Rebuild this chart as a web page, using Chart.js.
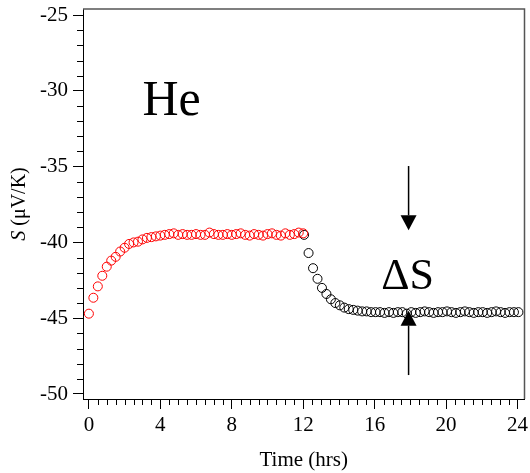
<!DOCTYPE html>
<html>
<head>
<meta charset="utf-8">
<script src="https://cdn.jsdelivr.net/npm/chart.js@4.4.1/dist/chart.umd.min.js"></script>
<style>
html,body{margin:0;padding:0;background:#fff;}
canvas{display:block;}
</style>
</head>
<body>
<canvas id="c" width="530" height="473"></canvas>
<script>
// ---- data ----
const redTime = [0,0.25,0.5,0.75,1,1.25,1.5,1.75,2,2.25,2.5,2.75,3,3.25,3.5,3.75,4,4.25,4.5,4.75,5,5.25,5.5,5.75,6,6.25,6.5,6.75,7,7.25,7.5,7.75,8,8.25,8.5,8.75,9,9.25,9.5,9.75,10,10.25,10.5,10.75,11,11.25,11.5,11.75,12];
const redS = [-44.7,-43.65,-42.9,-42.2,-41.6,-41.2,-40.95,-40.6,-40.35,-40.1,-40.0,-39.95,-39.8,-39.7,-39.65,-39.6,-39.55,-39.5,-39.45,-39.4,-39.5,-39.45,-39.5,-39.5,-39.45,-39.5,-39.5,-39.35,-39.45,-39.5,-39.5,-39.45,-39.5,-39.45,-39.4,-39.5,-39.55,-39.45,-39.5,-39.55,-39.45,-39.4,-39.5,-39.55,-39.4,-39.5,-39.45,-39.35,-39.4];
const blackTime = [12.05,12.3,12.55,12.8,13.05,13.3,13.55,13.8,14.05,14.3,14.55,14.8,15.05,15.3,15.55,15.8,16.05,16.3,16.55,16.8,17.05,17.3,17.55,17.8,18.05,18.3,18.55,18.8,19.05,19.3,19.55,19.8,20.05,20.3,20.55,20.8,21.05,21.3,21.55,21.8,22.05,22.3,22.55,22.8,23.05,23.3,23.55,23.8,24.05];
const blackS = [-39.5,-40.7,-41.7,-42.4,-43.0,-43.4,-43.75,-44.0,-44.15,-44.3,-44.4,-44.45,-44.5,-44.55,-44.55,-44.6,-44.6,-44.6,-44.65,-44.6,-44.65,-44.6,-44.6,-44.7,-44.6,-44.65,-44.6,-44.55,-44.6,-44.65,-44.6,-44.6,-44.55,-44.6,-44.65,-44.6,-44.55,-44.6,-44.65,-44.6,-44.6,-44.65,-44.6,-44.55,-44.6,-44.65,-44.6,-44.6,-44.6];

// axis ranges and tick spacing
const xRange = [-0.33, 24.39];
const yRange = [-50.33, -24.6];
const xMinorStep = 0.5, xMajorStep = 4;
const yMinorStep = 1, yMajorStep = 5;

// annotations (data coordinates)
const heLabel = {text: 'He', x: 3.0, y: -31.6};
const deltaLabel = {text: '\u0394S', x: 17.85, y: -43.07};
const arrowX = 17.9;
const downArrow = [-34.96, -39.2];   // from, to (tip)
const upArrow = [-48.75, -44.5];     // from, to (tip)

const FONT = "'Liberation Serif', 'Times New Roman', serif";

function isMult(v, step){ return Math.abs(v/step - Math.round(v/step)) < 1e-6; }

const decor = {
  id: 'decor',
  afterDraw(chart){
    const ctx = chart.ctx, xs = chart.scales.x, ys = chart.scales.y, a = chart.chartArea;
    ctx.save();
    // minor ticks
    ctx.strokeStyle = '#000'; ctx.lineWidth = 1;
    ctx.beginPath();
    xs.ticks.forEach(t => {
      if (!isMult(t.value, xMajorStep)) {
        const px = Math.round(xs.getPixelForValue(t.value)) + 0.5;
        ctx.moveTo(px, a.bottom); ctx.lineTo(px, a.bottom + 6);
      }
    });
    ys.ticks.forEach(t => {
      if (!isMult(t.value, yMajorStep)) {
        const py = Math.round(ys.getPixelForValue(t.value)) + 0.5;
        ctx.moveTo(a.left, py); ctx.lineTo(a.left - 6, py);
      }
    });
    ctx.stroke();
    // top and right frame
    ctx.strokeStyle = '#555'; ctx.lineWidth = 1.5;
    ctx.beginPath();
    ctx.moveTo(a.left, a.top); ctx.lineTo(a.right, a.top); ctx.lineTo(a.right, a.bottom);
    ctx.stroke();
    // arrows
    function arrow(x, y0, y1){
      const px = xs.getPixelForValue(x);
      const p0 = ys.getPixelForValue(y0), p1 = ys.getPixelForValue(y1);
      const dir = Math.sign(p1 - p0);
      const head = 15, half = 8;
      ctx.strokeStyle = '#000'; ctx.lineWidth = 1.5;
      ctx.beginPath(); ctx.moveTo(px, p0); ctx.lineTo(px, p1 - dir*head); ctx.stroke();
      ctx.fillStyle = '#000';
      ctx.beginPath();
      ctx.moveTo(px, p1);
      ctx.lineTo(px - half, p1 - dir*head);
      ctx.lineTo(px + half, p1 - dir*head);
      ctx.closePath(); ctx.fill();
    }
    arrow(arrowX, downArrow[0], downArrow[1]);
    arrow(arrowX, upArrow[0], upArrow[1]);
    // text labels
    ctx.fillStyle = '#000';
    ctx.textBaseline = 'alphabetic';
    ctx.font = '50px ' + FONT;
    ctx.textAlign = 'left';
    ctx.fillText(heLabel.text, xs.getPixelForValue(heLabel.x), ys.getPixelForValue(heLabel.y));
    ctx.font = '44px ' + FONT;
    ctx.textAlign = 'center';
    ctx.fillText(deltaLabel.text, xs.getPixelForValue(deltaLabel.x), ys.getPixelForValue(deltaLabel.y));
    // y axis title: italic S + (μV/K)
    ctx.translate(25, (a.top + a.bottom)/2);
    ctx.rotate(-Math.PI/2);
    ctx.textAlign = 'left';
    const f1 = 'italic 20px ' + FONT, f2 = '20px ' + FONT;
    ctx.font = f1; const w1 = ctx.measureText('S').width;
    ctx.font = f2; const w2 = ctx.measureText(' (\u03BCV/K)').width;
    const start = -(w1 + w2)/2;
    ctx.font = f1; ctx.fillText('S', start, 0);
    ctx.font = f2; ctx.fillText(' (\u03BCV/K)', start + w1, 0);
    ctx.restore();
  }
};

new Chart(document.getElementById('c'), {
  type: 'scatter',
  data: {
    datasets: [
      { data: redTime.map((t,i)=>({x:t, y:redS[i]})), borderColor:'#ff0000', backgroundColor:'rgba(0,0,0,0)', pointRadius:4.5, pointBorderWidth:1, showLine:false },
      { data: blackTime.map((t,i)=>({x:t, y:blackS[i]})), borderColor:'#000000', backgroundColor:'rgba(0,0,0,0)', pointRadius:4.5, pointBorderWidth:1, showLine:false }
    ]
  },
  options: {
    responsive: false,
    animation: false,
    layout: { padding: { top: 9, right: 0, left: 0, bottom: 0 } },
    plugins: { legend: { display: false }, tooltip: { enabled: false } },
    scales: {
      x: {
        type: 'linear', min: xRange[0], max: xRange[1],
        afterFit: s => { s.height = 74; s.paddingLeft = 0; s.paddingRight = 0; },
        border: { display: true, color: '#000', width: 1 },
        grid: { display: true, drawOnChartArea: false, drawTicks: true, tickLength: 10, tickWidth: 1,
                tickColor: c => isMult(c.tick.value, xMajorStep) ? '#000' : 'rgba(0,0,0,0)' },
        ticks: { stepSize: xMinorStep, includeBounds: false, autoSkip: false, maxRotation: 0, padding: 4, color: '#000',
                 font: { family: FONT, size: 21 },
                 callback: v => isMult(v, xMajorStep) ? String(Math.round(v)) : '' },
        title: { display: true, text: 'Time (hrs)', color: '#000', font: { family: FONT, size: 21 }, padding: { top: 0, bottom: 0 } }
      },
      y: {
        type: 'linear', min: yRange[0], max: yRange[1],
        afterFit: s => { s.width = 83; s.paddingTop = 0; s.paddingBottom = 0; },
        border: { display: true, color: '#000', width: 1 },
        grid: { display: true, drawOnChartArea: false, drawTicks: true, tickLength: 10, tickWidth: 1,
                tickColor: c => isMult(c.tick.value, yMajorStep) ? '#000' : 'rgba(0,0,0,0)' },
        ticks: { stepSize: yMinorStep, includeBounds: false, autoSkip: false, padding: 5, color: '#000',
                 font: { family: FONT, size: 21 },
                 callback: v => isMult(v, yMajorStep) ? String(Math.round(v)) : '' }
      }
    }
  },
  plugins: [decor]
});
</script>
</body>
</html>
